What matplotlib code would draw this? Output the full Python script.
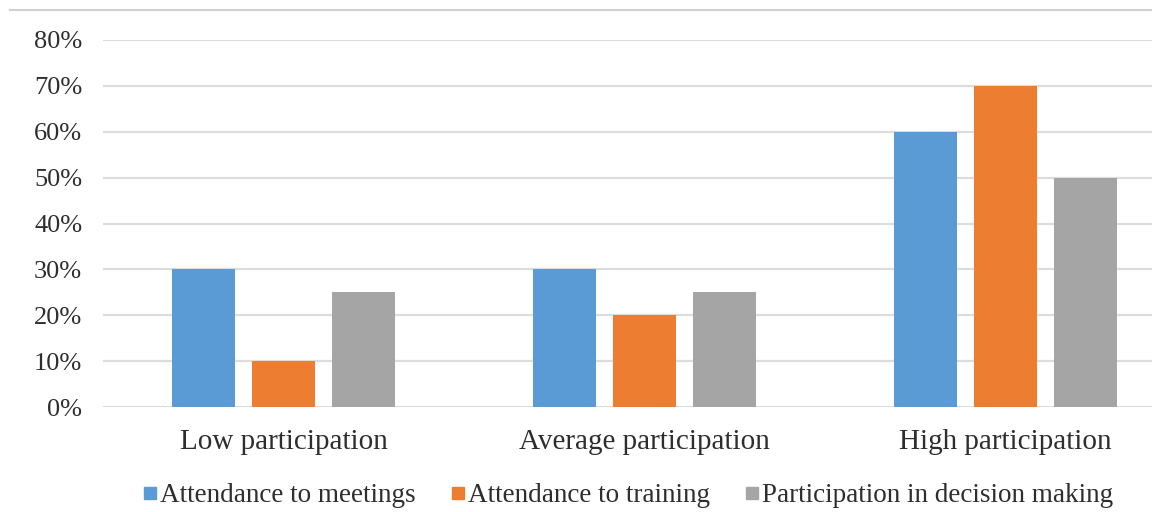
import matplotlib
matplotlib.use("Agg")
import matplotlib.pyplot as plt
import numpy as np
from matplotlib.lines import Line2D

plt.rcParams['font.family'] = ['Liberation Serif', 'DejaVu Serif']

categories = ["Low participation", "Average participation", "High participation"]
series_names = ["Attendance to meetings", "Attendance to training",
                "Participation in decision making"]
meetings = [0.30, 0.30, 0.60]
training = [0.10, 0.20, 0.70]
decision = [0.25, 0.25, 0.50]
colors = ["#5B9BD5", "#ED7D31", "#A5A5A5"]
yticks = [0, 0.1, 0.2, 0.3, 0.4, 0.5, 0.6, 0.7, 0.8]

W, H = 1152, 512
fig = plt.figure(figsize=(W / 100, H / 100), dpi=100)
# plot area runs past the right edge of the canvas
ax = fig.add_axes([103 / W, 1 - 407 / H, 1083 / W, 367 / H])

x = np.arange(len(categories))
bw = 0.174
step = 0.222
for i, (vals, c) in enumerate(zip([meetings, training, decision], colors)):
    ax.bar(x + (i - 1) * step, vals, width=bw, color=c, zorder=3)

ax.set_xlim(-0.5, 2.5)
ax.set_ylim(0, 0.8)
ax.set_yticks(yticks)
ax.set_yticklabels([f"{int(round(v * 100))}%" for v in yticks])
ax.yaxis.grid(True, color="#DDDDDD", linewidth=1.6, zorder=0)
ax.set_xticks(x)
ax.set_xticklabels(categories, fontsize=21)
ax.tick_params(axis='both', length=0, colors="#2E2E2E")
ax.tick_params(axis='y', pad=15, labelsize=19)
ax.tick_params(axis='x', pad=16)
for s in ax.spines.values():
    s.set_visible(False)

handles = [Line2D([], [], marker='s', linestyle='none', markersize=8.5,
                  markerfacecolor=c, markeredgecolor=c) for c in colors]
fig.legend(handles, series_names, loc='center', bbox_to_anchor=(628 / W, 1 - 496 / H),
           ncol=3, frameon=False, fontsize=19.5, handlelength=0.5, handletextpad=0.12,
           columnspacing=1.3, labelcolor="#2E2E2E")

# thin border line along the top of the chart area
fig.add_artist(Line2D([10 / W, 1], [1 - 10 / H, 1 - 10 / H], color="#D0D0D0",
                      linewidth=1.5, transform=fig.transFigure))

fig.savefig("out.png", dpi=100)
